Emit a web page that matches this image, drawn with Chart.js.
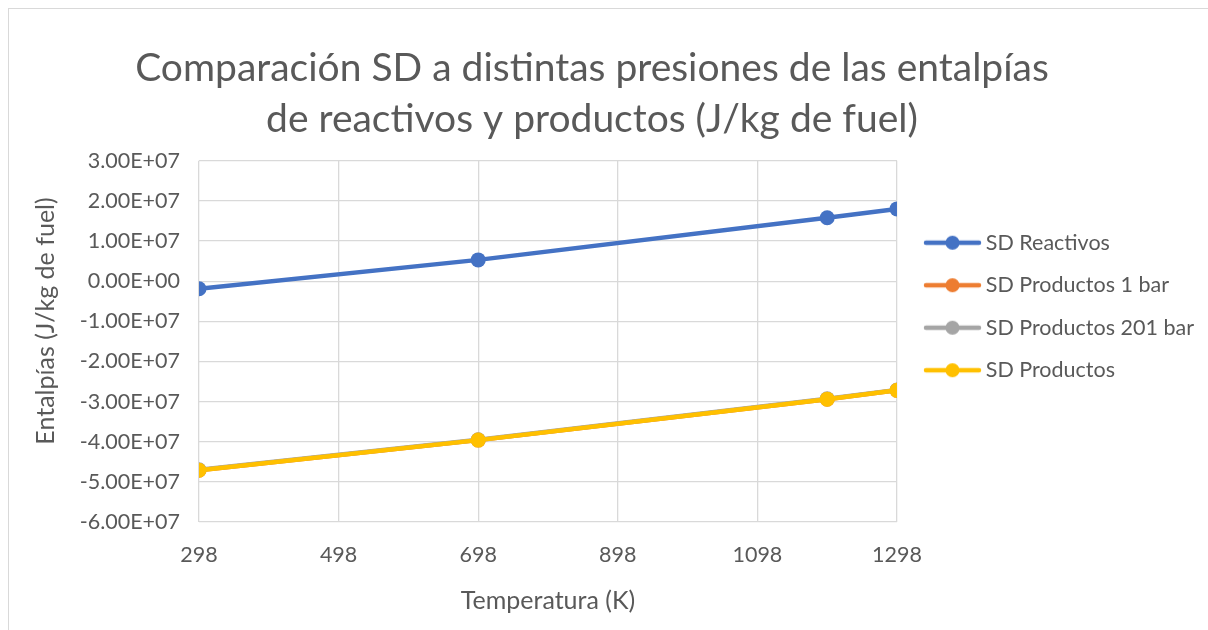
<!DOCTYPE html>
<html>
<head>
<meta charset="utf-8">
<script src="https://cdn.jsdelivr.net/npm/chart.js@4.4.0/dist/chart.umd.min.js"></script>
<style>
    body { margin: 0; background: #ffffff; }
    #wrap { position: relative; width: 1208px; height: 630px; overflow: hidden; }
    #frame { position: absolute; left: 8px; top: 8px; width: 1240px; height: 700px; border: 1px solid #d9d9d9; }
    #chart { position: absolute; left: 0; top: 0; }
</style>
</head>
<body>
<div id="wrap">
    <div id="frame"></div>
    <canvas id="chart" width="1208" height="630"></canvas>
</div>
<script>
// Datos
const temperaturas = [298, 698, 1198, 1298];
const sdReactivos = [-1.9e6, 5.3e6, 1.58e7, 1.80e7];
const sdProductos1bar = [-4.71e7, -3.96e7, -2.94e7, -2.72e7];
const sdProductos201bar = [-4.70e7, -3.95e7, -2.93e7, -2.71e7];
const sdProductos = [-4.71e7, -3.96e7, -2.94e7, -2.72e7];
const xTicks = [298, 498, 698, 898, 1098, 1298];

const textColor = '#595959';
const gridColor = '#d9d9d9';
const fontName = 'Lato, "Open Sans", sans-serif';
const yTitle = 'Entalpías (J/kg de fuel)';

// Formato tipo Excel 0.00E+00
const sci = (v) => {
    if (v === 0) return '0.00E+00';
    const exp = Math.floor(Math.log10(Math.abs(v)) + 1e-9);
    const mant = v / Math.pow(10, exp);
    const e = (exp < 0 ? '-' : '+') + String(Math.abs(exp)).padStart(2, '0');
    return mant.toFixed(2) + 'E' + e;
};

// Icono de leyenda: línea con marcador (parte izquierda transparente)
const legendIcon = (color) => {
    const c = document.createElement('canvas');
    c.width = 75;
    c.height = 16;
    const ctx = c.getContext('2d');
    ctx.strokeStyle = color;
    ctx.lineWidth = 4.5;
    ctx.lineCap = 'round';
    ctx.beginPath();
    ctx.moveTo(17, 8);
    ctx.lineTo(70, 8);
    ctx.stroke();
    ctx.fillStyle = color;
    ctx.beginPath();
    ctx.arc(43.5, 8, 7, 0, Math.PI * 2);
    ctx.fill();
    return c;
};

const makeSet = (label, values, color, order) => ({
    label: label,
    data: temperaturas.map((t, i) => ({x: t, y: values[i]})),
    borderColor: color,
    backgroundColor: color,
    borderWidth: 4.5,
    pointRadius: 7.5,
    pointHoverRadius: 7.5,
    pointBorderWidth: 0,
    tension: 0,
    order: order,
    icon: legendIcon(color)
});

const data = {
    datasets: [
        makeSet('SD Reactivos', sdReactivos, '#4472c4', 0),
        makeSet('SD Productos 1 bar', sdProductos1bar, '#ed7d31', 3),
        makeSet('SD Productos 201 bar', sdProductos201bar, '#a5a5a5', 2),
        makeSet('SD Productos', sdProductos, '#ffc000', 1)
    ]
};

// Título del eje Y dibujado a mano para centrarlo como en Excel
const yTitlePlugin = {
    id: 'yTitle',
    afterDraw: (chart) => {
        const ctx = chart.ctx;
        ctx.save();
        ctx.translate(46, 321);
        ctx.rotate(-Math.PI / 2);
        ctx.fillStyle = textColor;
        ctx.font = `25px ${fontName}`;
        ctx.textAlign = 'center';
        ctx.textBaseline = 'middle';
        ctx.fillText(yTitle, 0, 0);
        ctx.restore();
    }
};

const options = {
    responsive: false,
    animation: false,
    layout: {
        padding: {left: 0, right: 0, top: 0, bottom: 10}
    },
    plugins: {
        title: {
            display: true,
            text: ['Comparación SD a distintas presiones de las entalpías', 'de reactivos y productos (J/kg de fuel)'],
            color: textColor,
            font: {family: fontName, size: 39, weight: 'normal', lineHeight: 1.33},
            padding: {top: 42, bottom: 15}
        },
        legend: {
            position: 'right',
            align: 'center',
            labels: {
                color: textColor,
                font: {family: fontName, size: 21.5},
                usePointStyle: true,
                pointStyleWidth: 57,
                padding: 21,
                sort: (a, b) => a.datasetIndex - b.datasetIndex,
                generateLabels: (chart) => chart.data.datasets.map((ds, i) => ({
                    text: ds.label,
                    fontColor: textColor,
                    pointStyle: ds.icon,
                    datasetIndex: i,
                    lineWidth: 0,
                    hidden: false
                }))
            }
        },
        tooltip: {enabled: false}
    },
    scales: {
        x: {
            type: 'linear',
            min: 298,
            max: 1298,
            afterBuildTicks: (scale) => {
                scale.ticks = xTicks.map(v => ({value: v}));
            },
            afterFit: (scale) => {
                scale.height = 630 - 522 - 10;
            },
            grid: {color: gridColor, lineWidth: 1.3, drawTicks: false},
            border: {display: false},
            ticks: {color: textColor, font: {family: fontName, size: 21.5}, padding: 20, maxRotation: 0, callback: (v) => String(v)},
            title: {display: true, text: 'Temperatura (K)', color: textColor, font: {family: fontName, size: 25}, padding: {top: 10}}
        },
        y: {
            min: -6e7,
            max: 3e7,
            afterFit: (scale) => {
                scale.width = 199;
            },
            ticks: {
                stepSize: 1e7,
                color: textColor,
                font: {family: fontName, size: 21.5},
                padding: 19,
                callback: (v) => sci(v)
            },
            grid: {color: gridColor, lineWidth: 1.3, drawTicks: false},
            border: {display: false}
        }
    }
};

const myChart = new Chart(document.getElementById('chart').getContext('2d'), {
    type: 'line',
    data: data,
    options: options,
    plugins: [yTitlePlugin]
});

// Ancho fijo de la leyenda para que el área de trazado termine donde en el original
const legendFit = myChart.legend.fit;
myChart.legend.fit = function() {
    legendFit.call(this);
    this.width = 1208 - 897;
};
const legendDraw = myChart.legend.draw;
myChart.legend.draw = function() {
    this.ctx.save();
    this.ctx.translate(0, -3.5);
    legendDraw.call(this);
    this.ctx.restore();
};

// El título de Excel está algo desplazado a la izquierda
const titleDraw = myChart.titleBlock.draw;
myChart.titleBlock.draw = function() {
    this.ctx.save();
    this.ctx.translate(-12, 0);
    titleDraw.call(this);
    this.ctx.restore();
};
myChart.update();
</script>
</body>
</html>
